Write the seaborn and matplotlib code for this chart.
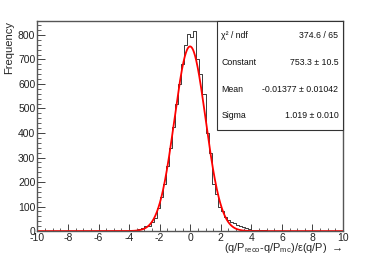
import numpy as np
import pandas as pd
import matplotlib
matplotlib.use("Agg")
import matplotlib.pyplot as plt
from matplotlib.ticker import MultipleLocator
import seaborn as sns

sns.set_theme(style="white")
plt.rcParams["font.family"] = ["Liberation Sans", "DejaVu Sans"]
plt.rcParams["axes.unicode_minus"] = False
plt.rcParams["mathtext.default"] = "regular"

# histogram: 0.2 wide bins on [-10, 10], only non-empty bins listed
bin_centers = np.round(np.arange(-4.7, 6.0, 0.2), 1)
counts = [1, 0, 1, 2, 3, 4, 5, 9, 12, 20, 22, 38, 55, 95, 140, 190, 265, 340,
          425, 520, 600, 680, 760, 805, 790, 815, 700, 640, 560, 400, 320, 190,
          150, 100, 80, 58, 46, 38, 31, 26, 21, 16, 12, 9, 6, 5, 4, 3, 3, 2,
          2, 2, 1, 1]

# gaussian fit results (from the stats box)
fit_const, fit_mean, fit_sigma = 753.3, -0.01377, 1.019
stat_labels = ["χ² / ndf", "Constant", "Mean", "Sigma"]
stat_values = ["374.6 / 65", "753.3 ± 10.5", "-0.01377 ± 0.01042", "1.019 ± 0.010"]

df = pd.DataFrame({"x": bin_centers, "n": counts})
fx = np.linspace(-10, 10, 800)
fit_df = pd.DataFrame({"x": fx,
                       "y": fit_const * np.exp(-0.5 * ((fx - fit_mean) / fit_sigma) ** 2)})

fig = plt.figure(figsize=(3.82, 2.62), dpi=100)
fig.patch.set_facecolor("white")
ax = fig.add_axes([0.098, 0.118, 0.800, 0.802])

sns.histplot(data=df, x="x", weights="n", binwidth=0.2, binrange=(-10, 10),
             element="step", fill=False, color="#3a3a3a", linewidth=0.7, ax=ax)
sns.lineplot(data=fit_df, x="x", y="y", color="#ff0000", linewidth=1.3, ax=ax)

ax.set_xlim(-10, 10)
ax.set_ylim(0, 857)
ax.xaxis.set_major_locator(MultipleLocator(2))
ax.xaxis.set_minor_locator(MultipleLocator(0.5))
ax.yaxis.set_major_locator(MultipleLocator(100))
ax.yaxis.set_minor_locator(MultipleLocator(20))
ax.tick_params(which="both", direction="in", top=False, right=False,
               bottom=True, left=True, colors="#222222", labelsize=7.5, pad=1.5)
ax.tick_params(axis="y", which="major", length=6, width=0.6)
ax.tick_params(axis="y", which="minor", length=3, width=0.5)
ax.tick_params(axis="x", which="major", length=5, width=0.6)
ax.tick_params(axis="x", which="minor", length=2.5, width=0.5)
for s in ax.spines.values():
    s.set_color("#555555")
    s.set_linewidth(1.0)
ax.set_xlabel("")
ax.set_ylabel("")

fig.text(0.012, 0.92, "Frequency", rotation=90, ha="left", va="top", fontsize=8)
fig.text(0.896, 0.052, r"(q/P$_{reco}$-q/P$_{mc}$)/ε(q/P)  →", ha="right",
         va="center", fontsize=7.9)

# stats box
bx0, bx1, by0, by1 = 0.568, 0.898, 0.504, 0.92
fig.patches.append(plt.Rectangle((bx0, by0), bx1 - bx0, by1 - by0, transform=fig.transFigure,
                                 facecolor="white", edgecolor="#333333", linewidth=0.8))
rows_y = [0.866, 0.763, 0.660, 0.560]
for lab, val, yy in zip(stat_labels, stat_values, rows_y):
    fig.text(bx0 + 0.011, yy, lab, ha="left", va="center", fontsize=6.3, color="#111111")
    fig.text(bx1 - 0.012, yy, val, ha="right", va="center", fontsize=6.3, color="#111111")

plt.savefig("out.png", dpi=100)
